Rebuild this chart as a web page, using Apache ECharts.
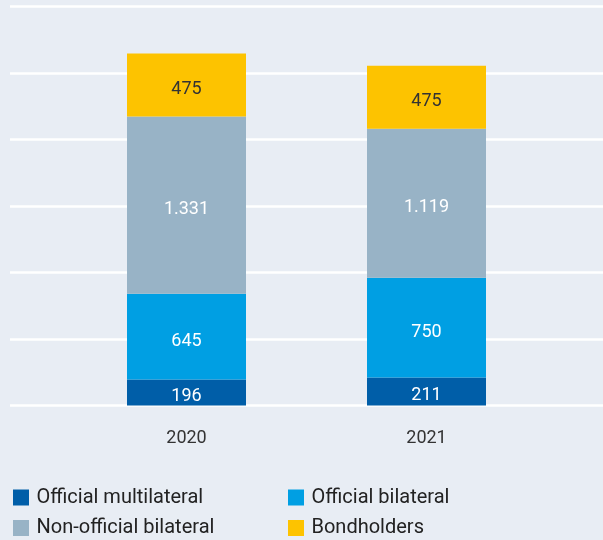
<!DOCTYPE html>
<html>
<head>
<meta charset="utf-8">
<script src="https://cdn.jsdelivr.net/npm/echarts@6/dist/echarts.min.js"></script>
<style>
html,body{margin:0;padding:0;background:#e8edf4;}
#c{width:603px;height:540px;}
</style>
</head>
<body>
<div id="c"></div>
<script>
const categories = ['2020', '2021'];
const officialMultilateral = [196, 211];
const officialBilateral = [645, 750];
const nonOfficialBilateral = [1331, 1119];
const bondholders = [475, 475];
const seriesNames = ['Official multilateral', 'Official bilateral', 'Non-official bilateral', 'Bondholders'];
const colors = ['#005ea8', '#009fe3', '#98b3c6', '#fdc300'];
const labelColors = ['#ffffff', '#ffffff', '#ffffff', '#333333'];
const yMin = 0, yMax = 3000, yInterval = 500;

const values = [officialMultilateral, officialBilateral, nonOfficialBilateral, bondholders];
const fmt = v => v >= 1000 ? Math.floor(v / 1000) + '.' + String(v % 1000).padStart(3, '0') : String(v);
const FONT = 'Roboto';

const chart = echarts.init(document.getElementById('c'), null, {renderer: 'canvas'});
const legendPos = [
  {left: 13, top: 487.5},
  {left: 288, top: 487.5},
  {left: 13, top: 518},
  {left: 288, top: 518}
];
chart.setOption({
  backgroundColor: '#e8edf4',
  animation: false,
  grid: [
    {left: 10, right: 0, top: 6.5, bottom: 134.5},
    {left: 66.5, width: 480, top: 6.5, bottom: 134.5}
  ],
  xAxis: [
    {gridIndex: 0, type: 'value', show: false, min: 0, max: 1},
    {gridIndex: 1, type: 'category', data: categories,
     axisLine: {show: false}, axisTick: {show: false},
     axisLabel: {color: '#333333', fontSize: 18, fontFamily: FONT, margin: 24}}
  ],
  yAxis: [
    {gridIndex: 0, type: 'value', min: yMin, max: yMax, interval: yInterval,
     axisLabel: {show: false}, axisLine: {show: false}, axisTick: {show: false},
     splitLine: {show: true, lineStyle: {color: '#ffffff', width: 2.5}}},
    {gridIndex: 1, type: 'value', min: yMin, max: yMax, interval: yInterval, show: false,
     splitLine: {show: false}}
  ],
  legend: seriesNames.map((n, i) => ({
    data: [n], left: legendPos[i].left, top: legendPos[i].top,
    icon: 'rect', itemWidth: 16, itemHeight: 16, itemGap: 0,
    padding: 0,
    textStyle: {color: '#222222', fontSize: 20, fontFamily: FONT, padding: [0, 0, 0, 2.5]}
  })),
  series: seriesNames.map((n, i) => ({
    name: n, type: 'bar', stack: 'total',
    xAxisIndex: 1, yAxisIndex: 1,
    barWidth: 119,
    data: values[i],
    itemStyle: {color: colors[i]},
    label: {show: true, position: 'inside', color: labelColors[i], fontSize: 18,
            fontFamily: FONT, offset: [0, 4.5],
            formatter: p => fmt(p.value)}
  }))
});
</script>
</body>
</html>
